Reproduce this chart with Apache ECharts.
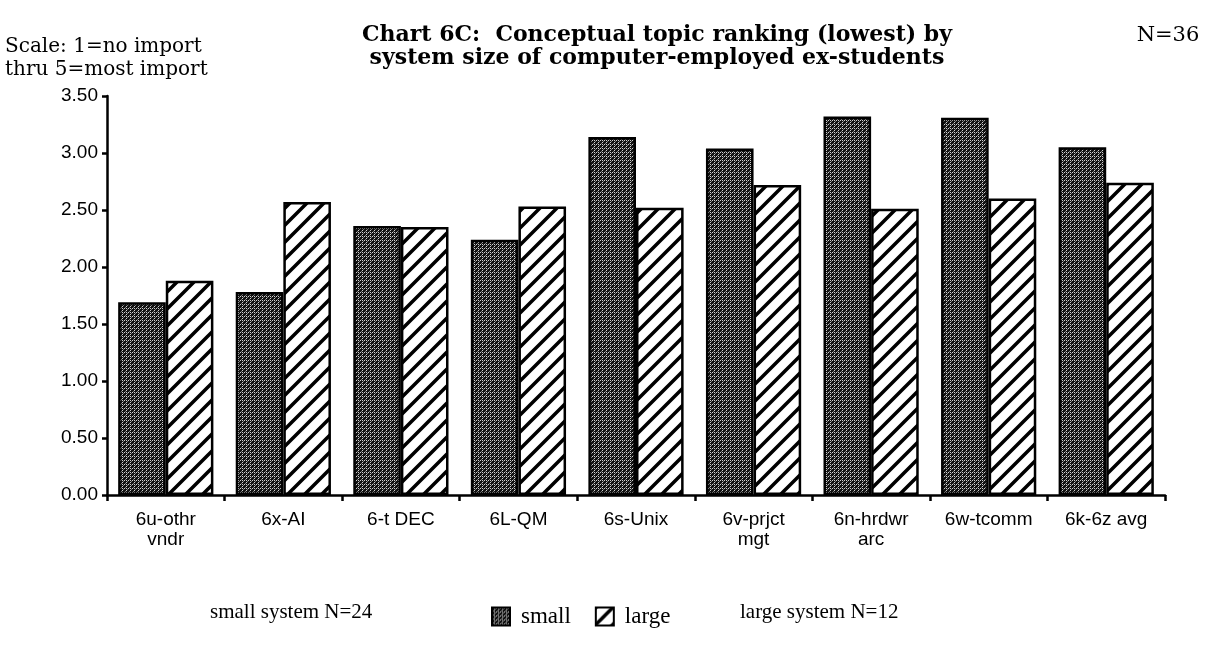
<!DOCTYPE html>
<html>
<head>
<meta charset="utf-8">
<script src="https://cdn.jsdelivr.net/npm/echarts@6/dist/echarts.min.js"></script>
<style>
  html, body { margin: 0; padding: 0; background: #fff; }
  #chart { width: 1215px; height: 659px; }
</style>
</head>
<body>
<div id="chart"></div>
<script>
// data
const categories = ['6u-othr\nvndr', '6x-AI', '6-t DEC', '6L-QM', '6s-Unix', '6v-prjct\nmgt', '6n-hrdwr\narc', '6w-tcomm', '6k-6z avg']
const smallValues = [1.69, 1.78, 2.36, 2.24, 3.14, 3.04, 3.32, 3.31, 3.05]
const largeValues = [1.88, 2.57, 2.35, 2.53, 2.52, 2.72, 2.51, 2.60, 2.74]
const yTicks = [0, 0.5, 1, 1.5, 2, 2.5, 3, 3.5]

// dithered dark grey for "small"
function dotPattern() {
  const c = document.createElement('canvas')
  c.width = 4; c.height = 4
  const ctx = c.getContext('2d')
  ctx.fillStyle = '#111'
  ctx.fillRect(0, 0, 4, 4)
  ctx.fillStyle = '#cfcfcf'
  ctx.fillRect(0, 0, 1, 1)
  ctx.fillRect(2, 2, 1, 1)
  ctx.fillRect(2, 0, 1, 1)
  ctx.fillStyle = '#777'
  ctx.fillRect(1, 3, 1, 1)
  ctx.fillRect(3, 1, 1, 1)
  return c
}

// "/" hatching for "large"
function hatchPattern() {
  const s = 17
  const c = document.createElement('canvas')
  c.width = s; c.height = s
  const ctx = c.getContext('2d')
  ctx.fillStyle = '#fff'
  ctx.fillRect(0, 0, s, s)
  ctx.strokeStyle = '#000'
  ctx.lineWidth = 3.5
  ctx.beginPath()
  ctx.moveTo(-2, s + 2); ctx.lineTo(s + 2, -2)
  ctx.moveTo(-2, 2); ctx.lineTo(2, -2)
  ctx.moveTo(s - 2, s + 2); ctx.lineTo(s + 2, s - 2)
  ctx.stroke()
  return c
}

const chart = echarts.init(document.getElementById('chart'))
const serif = '"DejaVu Serif", "Liberation Serif", serif'
const times = '"Liberation Serif", serif'
const sans = '"Liberation Sans", Arial, sans-serif'

const option = {
  animation: false,
  backgroundColor: '#fff',
  grid: { left: 107, right: 50, top: 96, bottom: 164 },
  legend: {
    data: ['small', 'large'],
    icon: 'rect',
    left: 486,
    top: 600,
    itemWidth: 18,
    itemHeight: 18,
    itemGap: 24,
    textStyle: { fontFamily: times, fontSize: 23, color: '#000', padding: [0, 0, 0, 6] }
  },
  xAxis: {
    type: 'category',
    data: categories,
    axisLine: { lineStyle: { color: '#000', width: 2.5 } },
    axisTick: { show: true, length: 6, lineStyle: { color: '#000', width: 2.5 } },
    axisLabel: { color: '#000', fontFamily: sans, fontSize: 19, margin: 15, lineHeight: 20 }
  },
  yAxis: {
    type: 'value',
    min: 0,
    max: 3.5,
    interval: 0.5,
    splitLine: { show: false },
    axisLine: { show: true, lineStyle: { color: '#000', width: 2.5 } },
    axisTick: { show: true, length: 5, lineStyle: { color: '#000', width: 2.5 } },
    axisLabel: {
      color: '#000', fontFamily: sans, fontSize: 19, margin: 9,
      formatter: v => yTicks.includes(v) ? v.toFixed(2) : ''
    }
  },
  series: [
    {
      name: 'small',
      type: 'bar',
      data: smallValues,
      barGap: '0%',
      barCategoryGap: '19%',
      itemStyle: { color: { image: dotPattern(), repeat: 'repeat' }, borderColor: '#000', borderWidth: 2.5 }
    },
    {
      name: 'large',
      type: 'bar',
      data: largeValues,
      itemStyle: { color: { image: hatchPattern(), repeat: 'repeat' }, borderColor: '#000', borderWidth: 2.5 }
    }
  ],
  graphic: [
    { type: 'text', x: 657, y: 35, style: { text: 'Chart 6C:  Conceptual topic ranking (lowest) by', font: 'bold 22px ' + serif, fill: '#000', align: 'center', verticalAlign: 'middle' } },
    { type: 'text', x: 657, y: 58, style: { text: 'system size of computer-employed ex-students', font: 'bold 22px ' + serif, fill: '#000', align: 'center', verticalAlign: 'middle' } },
    { type: 'text', x: 1168, y: 36, style: { text: 'N=36', font: '21px ' + serif, fill: '#000', align: 'center', verticalAlign: 'middle' } },
    { type: 'text', x: 5, y: 47, style: { text: 'Scale: 1=no import', font: '20px ' + serif, fill: '#000', verticalAlign: 'middle' } },
    { type: 'text', x: 5, y: 70, style: { text: 'thru 5=most import', font: '20px ' + serif, fill: '#000', verticalAlign: 'middle' } },
    { type: 'text', x: 210, y: 612, style: { text: 'small system N=24', font: '21px ' + times, fill: '#000', verticalAlign: 'middle' } },
    { type: 'text', x: 740, y: 612, style: { text: 'large system N=12', font: '21px ' + times, fill: '#000', verticalAlign: 'middle' } }
  ]
}

chart.setOption(option)
</script>
</body>
</html>
